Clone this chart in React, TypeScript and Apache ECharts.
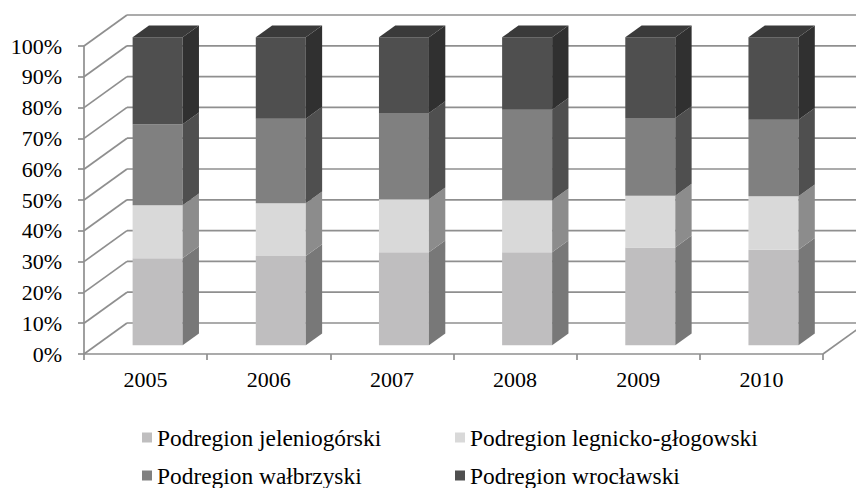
import React, { useEffect, useRef } from "react";
import * as echarts from "echarts";

const years = ["2005", "2006", "2007", "2008", "2009", "2010"];
const seriesNames = [
  "Podregion jeleniogórski",
  "Podregion legnicko-głogowski",
  "Podregion wałbrzyski",
  "Podregion wrocławski",
];
const jeleniogorski = [28.3, 29.0, 30.2, 30.2, 31.8, 31.0];
const legnickoGlogowski = [17.2, 17.1, 17.2, 16.9, 16.8, 17.4];
const walbrzyski = [26.3, 27.5, 28.0, 29.4, 25.2, 24.8];
const wroclawski = [28.2, 26.4, 24.6, 23.5, 26.2, 26.8];
const gridValues = [0, 10, 20, 30, 40, 50, 60, 70, 80, 90, 100];

const frontColors = ["#bfbebf", "#d9d9d9", "#808080", "#4f4f4f"];
const sideColors = ["#787878", "#8c8c8c", "#4f4f4f", "#303030"];
const topColors = ["#9a9a9a", "#b0b0b0", "#666666", "#3a3a3a"];

const FONT = "Liberation Serif";
const DX = 43;
const DY = 31;
const D0 = 0.28;
const D1 = 0.66;
const BAR_FRAC = 0.406;
const LINE = "#8f8f8f";
const LW = 1.7;

export default function App() {
  const ref = useRef<HTMLDivElement>(null);
  useEffect(() => {
    if (!ref.current) return;
    const chart = echarts.init(ref.current, null, { renderer: "svg" });
    const values = [jeleniogorski, legnickoGlogowski, walbrzyski, wroclawski];
    const bases: number[][] = [];
    const acc = years.map(() => 0);
    values.forEach((arr) => {
      bases.push(acc.slice());
      arr.forEach((v, i) => (acc[i] += v));
    });

    const wallSeries: any = {
      type: "custom",
      name: "walls",
      silent: true,
      clip: false,
      z: 1,
      data: gridValues.map((v) => [0, v]),
      renderItem: (params: any, api: any) => {
        const cs = params.coordSys;
        const v = api.value(1);
        const y = api.coord([0, v])[1];
        const xL = cs.x;
        const xR = cs.x + cs.width;
        const children: any[] = [
          { type: "line", shape: { x1: xL, y1: y, x2: xL + DX, y2: y - DY }, style: { stroke: LINE, lineWidth: LW } },
          { type: "line", shape: { x1: xL + DX, y1: y - DY, x2: xR + DX, y2: y - DY }, style: { stroke: LINE, lineWidth: LW } },
        ];
        if (v === 0) {
          children.push({ type: "line", shape: { x1: xR, y1: y, x2: xR + DX, y2: y - DY }, style: { stroke: LINE, lineWidth: LW } });
        }
        return { type: "group", children };
      },
    };

    const barSeries = values.map((arr, si) => ({
      type: "custom",
      name: seriesNames[si],
      clip: false,
      z: 3,
      itemStyle: { color: frontColors[si] },
      data: arr.map((v, i) => [i, bases[si][i], bases[si][i] + v]),
      renderItem: (params: any, api: any) => {
        const idx = api.value(0);
        const b = api.coord([idx, api.value(1)]);
        const t = api.coord([idx, api.value(2)]);
        const band = api.size([1, 0])[0];
        const w = band * BAR_FRAC;
        const xL = b[0] + D0 * DX - w / 2;
        const xR = xL + w;
        const yB = b[1] - D0 * DY;
        const yT = t[1] - D0 * DY;
        const dx = (D1 - D0) * DX;
        const dy = (D1 - D0) * DY;
        const children: any[] = [
          { type: "rect", shape: { x: xL, y: yT, width: w, height: yB - yT }, style: { fill: frontColors[si] } },
          { type: "polygon", shape: { points: [[xR, yB], [xR, yT], [xR + dx, yT - dy], [xR + dx, yB - dy]] }, style: { fill: sideColors[si] } },
        ];
        if (si === values.length - 1) {
          children.push({ type: "polygon", shape: { points: [[xL, yT], [xR, yT], [xR + dx, yT - dy], [xL + dx, yT - dy]] }, style: { fill: topColors[si] } });
        }
        return { type: "group", children };
      },
    }));

    const legendPos = [
      { left: 142, top: 426 },
      { left: 455, top: 426 },
      { left: 142, top: 464 },
      { left: 455, top: 464 },
    ];

    chart.setOption({
      animation: false,
      backgroundColor: "#ffffff",
      grid: { left: 84, right: 33, top: 46, bottom: 134 },
      legend: seriesNames.map((n, i) => ({
        data: [{ name: n, icon: "rect" }],
        left: legendPos[i].left,
        top: legendPos[i].top,
        padding: 0,
        itemWidth: 10,
        itemHeight: 10,
        selectedMode: false,
        textStyle: { fontSize: 23.4, fontFamily: FONT, color: "#000" },
      })),
      xAxis: {
        type: "category",
        data: years,
        axisLine: { show: true, lineStyle: { color: LINE, width: LW } },
        axisTick: { show: true, length: 6, lineStyle: { color: LINE, width: LW } },
        axisLabel: { fontSize: 22, fontFamily: FONT, color: "#000", margin: 14 },
      },
      yAxis: {
        type: "value",
        min: 0,
        max: 100,
        interval: 10,
        axisLine: { show: true, lineStyle: { color: LINE, width: LW } },
        axisTick: { show: true, length: 6, lineStyle: { color: LINE, width: LW } },
        axisLabel: { fontSize: 22, fontFamily: FONT, color: "#000", margin: 22, formatter: "{value}%" },
        splitLine: { show: false },
      },
      series: [wallSeries, ...barSeries],
    });
    return () => chart.dispose();
  }, []);
  return <div ref={ref} style={{ position: "fixed", left: 0, top: 0, width: 856, height: 488 }} />;
}
